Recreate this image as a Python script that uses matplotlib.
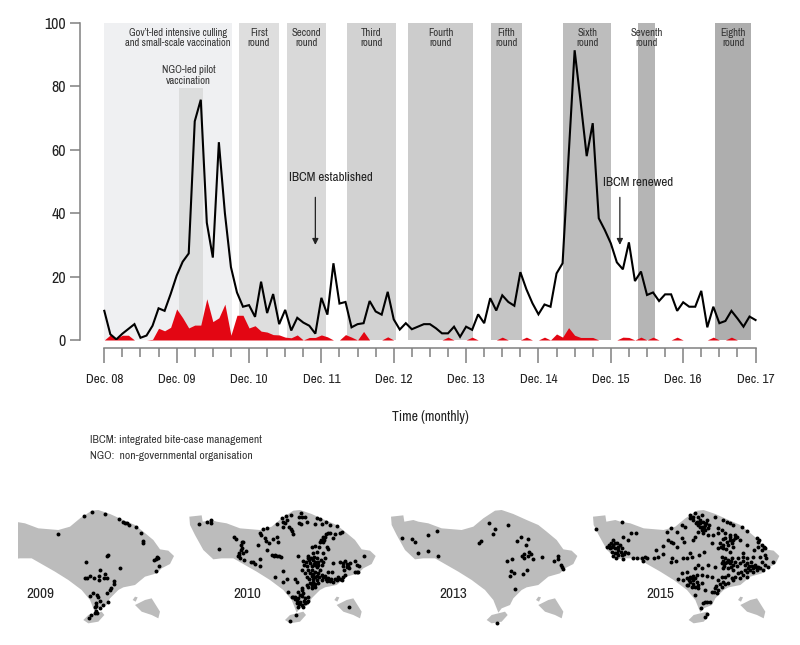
import matplotlib
matplotlib.use("Agg")
import matplotlib.pyplot as plt
import numpy as np

plt.rcParams["font.family"] = ["Archivo Narrow", "Roboto Condensed", "Liberation Sans", "DejaVu Sans"]

# monthly series, Dec 08 = month 0
rabies_cases = [9.2, 1.8, 0.2, 2, 3.5, 5, 0.7, 1.4, 4.5, 10, 9.2, 14.5, 20.3, 24.7, 27.3, 69, 75.8, 37, 26, 62.4,
                40, 23, 15, 10.5, 11, 7.3, 18.4, 8.5, 14.5, 5, 9.5, 3, 7, 5.5, 4.5, 2, 13.3, 8, 24.2, 11.5,
                12, 4, 5, 5.3, 12.3, 9, 8, 15.2, 6.5, 3.3, 5.3, 3.4, 4.2, 5, 5, 3.7, 2.1, 2.1, 4.2, 1,
                4.2, 3.2, 8.1, 5.3, 13.2, 9.3, 14.1, 12, 10.8, 21.4, 16, 11.6, 8.1, 11.2, 10.5, 21, 24.2, 58, 91.4, 75,
                58, 68.4, 38.4, 34.7, 30.5, 24.5, 22.3, 30.8, 18.6, 21.6, 14.2, 15, 12.3, 14.4, 14.4, 9.2, 11.9, 10.5, 10.5, 15.5,
                4, 10.5, 5.3, 6, 9.2, 6.8, 4.2, 7.4, 6.3]
human_cases = [0, 1.6, 0.5, 1.5, 1.5, 0, 0, 0, 0.2, 3.7, 2.9, 4, 9.8, 7, 3.8, 4.7, 4.7, 13, 5.8, 7,
               11.3, 1.5, 7.8, 7.8, 3.8, 4.5, 2.8, 2.5, 1.7, 1.6, 0.9, 0.7, 1.6, 0, 0.8, 0.8, 1.6, 1, 0, 0,
               1.7, 0.9, 0, 2.7, 0, 0, 0, 1, 0, 0, 0, 0, 0, 0, 0, 0, 0, 0.9, 0, 0,
               0, 0.9, 0, 0, 0, 0, 0.9, 0, 0, 0, 0.9, 0, 0, 0.9, 0, 1.9, 0.9, 3.9, 1.5, 0.8,
               0.8, 0.8, 0, 0, 0, 0, 0.9, 0.8, 0, 0.9, 0, 0.9, 0, 0, 0, 0.9, 0, 0, 0, 0,
               0, 0.9, 0, 0, 0.9, 0, 0, 0, 0]

year_labels = ["Dec. 08", "Dec. 09", "Dec. 10", "Dec. 11", "Dec. 12", "Dec. 13", "Dec. 14", "Dec. 15", "Dec. 16", "Dec. 17"]

# vaccination periods in months since Dec 08
round_labels = ["First\nround", "Second\nround", "Third\nround", "Fourth\nround", "Fifth\nround",
                "Sixth\nround", "Seventh\nround", "Eighth\nround"]
round_start = [22.3, 30.3, 40.2, 50.3, 64.1, 76.1, 88.5, 101.3]
round_end = [28.9, 36.7, 48.4, 61.2, 69.2, 84.1, 91.3, 107.3]
round_colors = ["#dedede", "#d9d9d9", "#d2d2d2", "#cccccc", "#c5c5c5", "#bdbdbd", "#b5b5b5", "#aeaeae"]

culling_period = [0, 21.2]
pilot_period = [12.4, 16.4]

bali_main = [(568, 80), (605, 76), (608, 95), (635, 90), (650, 95), (680, 100), (720, 115), (780, 120), (815, 110),
             (845, 85), (880, 62), (900, 60), (935, 72), (975, 90), (1010, 105), (1035, 125), (1065, 150), (1085, 178),
             (1110, 182), (1127, 198), (1115, 222), (1090, 235), (1075, 250), (1040, 260), (1010, 285), (975, 292),
             (960, 300), (935, 325), (925, 345), (900, 355), (890, 368), (885, 355), (875, 330), (850, 300), (810, 270),
             (770, 245), (735, 225), (700, 205), (665, 205), (640, 208), (610, 180), (585, 135), (570, 105)]
bali_bukit = [(855, 390), (870, 375), (910, 365), (918, 375), (900, 395), (870, 400)]
bali_penida = [(1010, 345), (1040, 330), (1060, 325), (1085, 365), (1080, 385), (1060, 375), (1030, 365)]
bali_lembongan = [(1003, 330), (1010, 320), (1018, 322), (1012, 335)]

dots_2009 = [(252, 77), (276, 67), (315, 71), (356, 87), (368, 97), (375, 98), (382, 100), (388, 105), (407, 111),
             (423, 128), (429, 153), (430, 158), (175, 133), (320, 198), (324, 196), (472, 200), (468, 208), (463, 210),
             (474, 205), (478, 229), (469, 242), (258, 217), (361, 235), (300, 241), (315, 252), (254, 264), (260, 263),
             (270, 257), (282, 265), (296, 258), (297, 270), (311, 264), (320, 265), (343, 274), (342, 281), (333, 295),
             (331, 301), (320, 308), (279, 310), (270, 318), (292, 315), (295, 322), (324, 335), (310, 345), (300, 333),
             (288, 340), (287, 347), (286, 352), (300, 355), (288, 362), (292, 370), (285, 368), (272, 376), (266, 383)]
dots_2010 = [(597, 101), (620, 97), (633, 90), (633, 100), (658, 176), (703, 142), (708, 147), (725, 157), (730, 157),
             (723, 165), (726, 173), (722, 180), (738, 183), (728, 190), (717, 188), (713, 197), (720, 205), (716, 195),
             (733, 211), (752, 216), (760, 217), (781, 207), (781, 227), (766, 222), (775, 166), (801, 180), (780, 130),
             (782, 136), (789, 117), (802, 114), (830, 101), (795, 145), (797, 153), (808, 160), (820, 148), (830, 142),
             (833, 155), (815, 196), (822, 198), (830, 197), (838, 198), (843, 200), (826, 195), (845, 85), (858, 78),
             (872, 76), (850, 95), (856, 98), (862, 90), (848, 110), (866, 111), (872, 118), (876, 124), (880, 132),
             (903, 68), (897, 82), (907, 82), (916, 80), (897, 98), (903, 103), (920, 96), (950, 84), (960, 88), (945, 103),
             (965, 103), (977, 95), (990, 105), (1010, 107), (1025, 125), (1020, 130), (1000, 143), (985, 128), (978, 133),
             (970, 140), (972, 150), (960, 155), (968, 155), (1092, 197), (935, 172), (945, 168), (958, 172), (980, 172),
             (985, 178), (970, 188), (950, 185), (940, 190), (925, 198), (943, 200), (893, 198), (910, 212), (918, 215),
             (925, 205), (930, 218), (938, 210), (945, 215), (950, 205), (955, 215), (962, 210), (970, 215), (975, 205),
             (912, 225), (920, 228), (935, 228), (945, 225), (955, 225), (965, 225), (905, 240), (915, 250), (925, 240),
             (935, 240), (945, 245), (955, 250), (965, 255), (920, 262), (935, 258), (945, 262), (950, 270), (940, 275),
             (930, 280), (925, 290), (935, 295), (945, 292), (955, 280), (965, 270), (975, 258), (985, 245), (995, 245),
             (1000, 218), (985, 265), (980, 272), (990, 272), (1000, 275), (1010, 270), (1020, 268), (1030, 262), (1035, 255),
             (1020, 215), (1030, 218), (1040, 222), (1050, 218), (1028, 228), (1040, 232), (1048, 235), (1065, 212),
             (1070, 225), (1078, 228), (1065, 245), (1075, 245), (885, 268), (890, 275), (860, 268), (850, 275), (825, 262),
             (848, 242), (865, 305), (905, 300), (910, 310), (900, 315), (895, 325), (885, 320), (880, 320), (890, 330),
             (900, 335), (915, 325), (925, 320), (890, 340), (905, 345), (915, 340), (925, 332), (895, 350), (905, 295),
             (920, 285), (1046, 350), (887, 376), (869, 392),
             (928, 210), (934, 203), (942, 222), (952, 232), (960, 240), (930, 248), (940, 252), (950, 258), (926, 268),
             (938, 268), (958, 262), (970, 262), (936, 285), (946, 282), (978, 268), (992, 266), (1005, 268), (1015, 262),
             (1025, 270), (895, 305), (905, 318), (912, 332), (898, 342), (884, 328), (875, 322), (920, 335), (908, 352),
             (1035, 212), (1045, 228), (1033, 240), (1072, 245), (962, 150), (975, 140), (990, 130), (1005, 132)]
dots_2013 = [(7, 143), (36, 146), (44, 157), (85, 136), (110, 123), (53, 188), (83, 184), (113, 198), (267, 100), (325, 105),
             (284, 118), (279, 132), (243, 153), (236, 160), (350, 154), (364, 142), (383, 147), (378, 165), (387, 185),
             (393, 192), (399, 207), (371, 193), (366, 198), (372, 205), (383, 197), (426, 202), (322, 212), (337, 207),
             (461, 212), (474, 198), (474, 208), (482, 226), (486, 232), (488, 238), (382, 240), (370, 252), (334, 243),
             (343, 250), (331, 258), (346, 298), (290, 400)]
dots_2015 = [(587, 118), (666, 95), (707, 128), (694, 130), (685, 150), (668, 140), (640, 150), (632, 160), (622, 170),
             (630, 175), (640, 165), (650, 160), (660, 165), (665, 175), (655, 180), (645, 175), (635, 185), (645, 190),
             (655, 195), (665, 195), (675, 185), (685, 190), (648, 205), (668, 207), (700, 203), (712, 205), (725, 205),
             (735, 200), (740, 205), (730, 212), (762, 205), (775, 200), (790, 192), (767, 180), (790, 168), (800, 125),
             (812, 115), (830, 125), (845, 105), (855, 110), (805, 150), (812, 155), (820, 160), (830, 170), (845, 145),
             (852, 155), (878, 150), (885, 140), (895, 125), (870, 190), (875, 200), (862, 205), (850, 205), (815, 205),
             (828, 212), (812, 215), (898, 195), (912, 185), (870, 75), (885, 68), (905, 75), (870, 85), (880, 90), (890, 95),
             (900, 90), (910, 95), (920, 90), (895, 105), (905, 110), (915, 105), (905, 120), (915, 120), (925, 115), (945, 80),
             (970, 90), (980, 95), (990, 100), (1000, 105), (1025, 110), (1040, 122), (955, 115), (965, 120), (925, 135),
             (940, 135), (955, 130), (975, 130), (990, 135), (1005, 135), (1020, 150), (975, 145), (990, 150), (1000, 150),
             (960, 160), (970, 165), (985, 165), (1000, 170), (1040, 165), (1070, 145), (1078, 150), (1085, 165), (1075, 170),
             (1095, 175), (1085, 180), (935, 160), (990, 185), (1030, 190), (955, 175), (970, 175), (965, 200), (975, 205),
             (985, 210), (995, 205), (965, 220), (975, 220), (990, 220), (1005, 215), (970, 235), (985, 235), (1000, 240),
             (1015, 205), (1030, 200), (1040, 205), (1060, 200), (1080, 200), (1095, 195), (1120, 215), (1020, 220), (1035, 225),
             (1045, 235), (1055, 228), (1065, 225), (1075, 230), (1085, 215), (1095, 225), (1105, 230), (1040, 245), (1050, 240),
             (1060, 245), (1070, 240), (1090, 240), (1030, 255), (1015, 250), (1005, 260), (995, 265), (985, 255), (975, 260),
             (965, 262), (955, 270), (970, 275), (985, 280), (1000, 270), (1020, 265), (1040, 262), (845, 250), (860, 245),
             (835, 268), (850, 270), (860, 265), (870, 262), (880, 258), (890, 255), (905, 255), (920, 257), (935, 262), (870, 275),
             (880, 270), (890, 275), (865, 285), (875, 290), (885, 290), (895, 285), (905, 280), (860, 285), (885, 315), (915, 300),
             (935, 305), (945, 295), (955, 300), (965, 290), (975, 282), (925, 225), (945, 230), (895, 225), (885, 235), (905, 235),
             (920, 335), (930, 337), (910, 340), (903, 353), (922, 372), (915, 380), (915, 337),
             (628, 165), (636, 172), (646, 158), (655, 170), (662, 185), (672, 192), (650, 188), (640, 198), (880, 80), (895, 82),
             (888, 100), (900, 100), (912, 110), (918, 100), (928, 105), (900, 112), (908, 128), (968, 148), (982, 155), (995, 160),
             (962, 172), (978, 178), (968, 212), (980, 215), (992, 212), (1000, 225), (972, 228), (992, 230), (1012, 228), (1028, 212),
             (1040, 218), (1052, 215), (1058, 235), (1068, 232), (1080, 235), (1048, 228), (1035, 240), (1022, 245), (960, 282),
             (948, 288), (942, 305), (952, 308), (875, 265), (885, 265), (878, 282), (868, 270), (895, 295), (1092, 170), (1098, 205),
             (1075, 155), (1062, 180), (1005, 145), (1012, 140), (990, 142)]

W, H = 800, 645
fig = plt.figure(figsize=(8, 6.45), dpi=100)

# main chart
ax = fig.add_axes([80 / W, 1 - 340 / H, 680 / W, 317 / H])
ax.set_xlim(-4.03, 108.74)
ax.set_ylim(0, 100)

ax.axvspan(culling_period[0], culling_period[1], color="#eff0f2", lw=0)
ax.axvspan(pilot_period[0], pilot_period[1], ymax=0.795, color="#dcdddd", lw=0)
for start, end, c, lab in zip(round_start, round_end, round_colors, round_labels):
    ax.axvspan(start, end, color=c, lw=0)
    ax.text((start + end) / 2, 95.2, lab, ha="center", va="center", fontsize=7.7, color="#333333", linespacing=1.05)

ax.text(12.2, 95.2, "Gov’t-led intensive culling\nand small-scale vaccination", ha="center", va="center",
        fontsize=7.5, color="#333333", linespacing=1.05)
ax.text(14, 83.5, "NGO-led pilot\nvaccination", ha="center", va="center", fontsize=7.7, color="#333333", linespacing=1.05)

months = np.arange(len(rabies_cases))
ax.fill_between(months, human_cases, 0, color="#e30613", lw=0)
ax.plot(months, rabies_cases, color="black", lw=1.5, solid_joinstyle="miter")

for x in [35, 85.5]:
    ax.annotate("", xy=(x, 30), xytext=(x, 45), arrowprops=dict(arrowstyle="-|>", color="#222222", lw=0.9, mutation_scale=9, shrinkA=0, shrinkB=0))
ax.text(37.5, 51.2, "IBCM established", ha="center", va="center", fontsize=9.4, color="#222222")
ax.text(88.5, 49.8, "IBCM renewed", ha="center", va="center", fontsize=9.4, color="#222222")

for s in ["top", "right"]:
    ax.spines[s].set_visible(False)
for s in ["left", "bottom"]:
    ax.spines[s].set_color("#808080")
    ax.spines[s].set_linewidth(1.1)
ax.spines["bottom"].set_position(("outward", 5.8))
ax.spines["bottom"].set_bounds(0, 108)
ax.set_yticks(range(0, 101, 20))
ax.tick_params(axis="y", length=7, width=1.1, color="#808080", labelsize=11.5, labelcolor="#222222", pad=3)
ax.set_xticks(range(0, 109, 12))
ax.set_xticklabels(year_labels)
ax.set_xticks(range(0, 109, 3), minor=True)
ax.tick_params(axis="x", which="major", length=11, width=1.1, color="#808080", labelsize=9.6, labelcolor="#222222", pad=7.5)
ax.tick_params(axis="x", which="minor", length=6.5, width=1.1, color="#808080")

fig.text(430 / W, 1 - 417 / H, "Time (monthly)", ha="center", va="center", fontsize=10, color="#222222")
fig.text(90 / W, 1 - 440 / H, "IBCM: integrated bite-case management", ha="left", va="center", fontsize=8.3, color="#333333")
fig.text(90 / W, 1 - 456 / H, "NGO:  non-governmental organisation", ha="left", va="center", fontsize=8.3, color="#333333")

# maps, coordinates are 3x zoomed pixels, origin_x is where the crop starts in the figure
map_years = ["2009", "2010", "2013", "2015"]
map_dots = [dots_2009, dots_2010, dots_2013, dots_2015]
map_shift = [-605, 0, -595, 11]
map_origin = [0, 0, 400, 400]
map_left_clip = [55, -9999, -9999, -9999]
label_pos = [(122, 313), (741, 313), (161, 313), (781, 313)]

for yr, dots, shift, origin, clip, lp in zip(map_years, map_dots, map_shift, map_origin, map_left_clip, label_pos):
    x0 = max(540 + shift, clip)
    x1 = 1150 + shift
    y0, y1 = 40, 420
    m = fig.add_axes([(origin + x0 / 3) / W, 1 - (490 + y1 / 3) / H, (x1 - x0) / 3 / W, (y1 - y0) / 3 / H])
    m.set_xlim(x0, x1)
    m.set_ylim(y1, y0)
    m.axis("off")
    for part in [bali_main, bali_bukit, bali_penida, bali_lembongan]:
        xs = [p[0] + shift for p in part]
        ys = [p[1] for p in part]
        m.fill(xs, ys, color="#bcbcbc", lw=0)
    m.scatter([d[0] for d in dots], [d[1] for d in dots], s=8, color="black", lw=0, zorder=3)
    fig.text((origin + lp[0] / 3) / W, 1 - (490 + lp[1] / 3) / H, yr, ha="center", va="center", fontsize=11, color="#222222")

fig.savefig("out.png", dpi=100)
